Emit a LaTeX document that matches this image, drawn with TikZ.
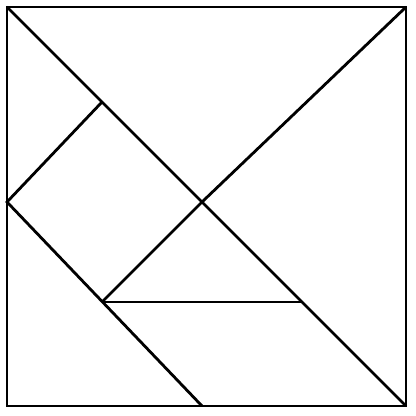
\documentclass[tikz,border=0pt]{standalone}
\usepackage{tikz}

\begin{document}
\begin{tikzpicture}
            \useasboundingbox (-0.02,-0.14) rectangle (4.14,4.02);
            \draw[black, thick] (0.05,-0.04) rectangle (4.04,3.95);
            \draw[black, thick] (0.05,3.95) -- (4.04,-0.04);
            \draw[black, thick] (4.04,3.95) -- (2,2) -- (1,1);
            \draw[black, thick] (1,3) -- (0.05,2) -- (2,-0.04);
            \draw[black, thick] (1,1) -- (3,1);
        \end{tikzpicture}
\end{document}
